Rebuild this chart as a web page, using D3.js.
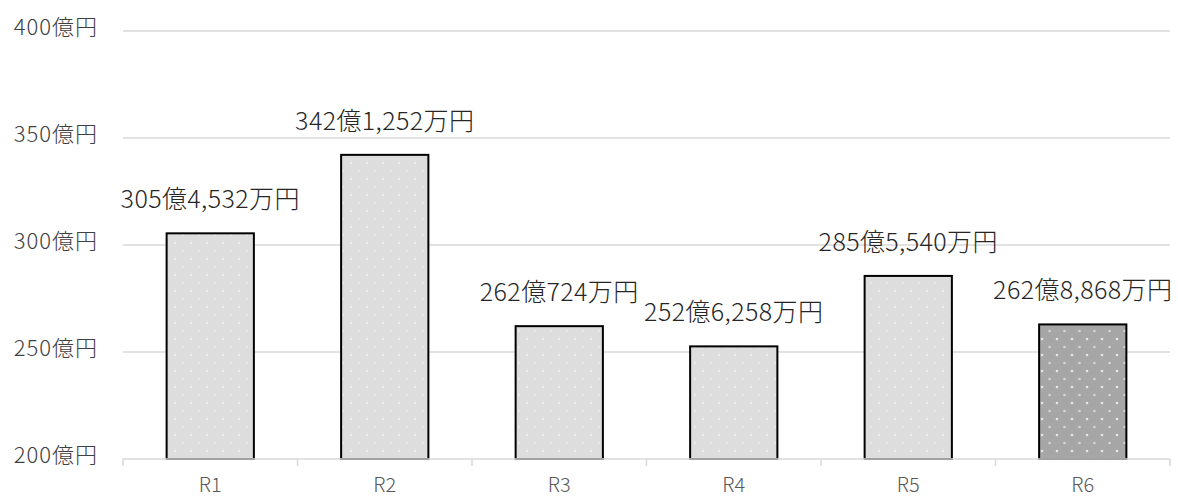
<!DOCTYPE html>
<html>
<head>
<meta charset="utf-8">
<script src="https://cdn.jsdelivr.net/npm/d3@7"></script>
<style>
  body { margin: 0; background: #fff; }
  svg text { font-family: "Noto Sans CJK JP", "Noto Sans", sans-serif; }
</style>
</head>
<body>
<div id="chart-area"></div>
<script>
// data (億円)
var categories = ["R1", "R2", "R3", "R4", "R5", "R6"];
var values = [305.4532, 342.1252, 262.0724, 252.6258, 285.5540, 262.8868];
var valueLabels = ["305億4,532万円", "342億1,252万円", "262億724万円", "252億6,258万円", "285億5,540万円", "262億8,868万円"];
var yTicks = [200, 250, 300, 350, 400];

var margin = {top: 31, right: 8, bottom: 38, left: 123};
var width = 1178 - margin.left - margin.right,
    height = 497 - margin.top - margin.bottom;

var svg = d3.select("#chart-area").append("svg")
    .attr("width", 1178)
    .attr("height", 497);

// patterns
var defs = svg.append("defs");
var light = defs.append("pattern")
    .attr("id", "lightDots")
    .attr("patternUnits", "userSpaceOnUse")
    .attr("width", 16).attr("height", 16);
light.append("rect").attr("width", 16).attr("height", 16).attr("fill", "#dddddd");
light.append("circle").attr("cx", 4).attr("cy", 4).attr("r", 1.2).attr("fill", "#eeeeee");
light.append("circle").attr("cx", 12).attr("cy", 12).attr("r", 1.2).attr("fill", "#e9e9e9");

var dark = defs.append("pattern")
    .attr("id", "darkDots")
    .attr("patternUnits", "userSpaceOnUse")
    .attr("width", 15).attr("height", 16);
dark.append("rect").attr("width", 15).attr("height", 16).attr("fill", "#a6a6a6");
dark.append("circle").attr("cx", 4).attr("cy", 4).attr("r", 1.3).attr("fill", "#e6e6e6");
dark.append("circle").attr("cx", 11.5).attr("cy", 12).attr("r", 1.3).attr("fill", "#d4d4d4");

var g = svg.append("g")
    .attr("transform", "translate(" + margin.left + "," + margin.top + ")");

var x = d3.scaleBand()
    .domain(categories)
    .range([0, width])
    .paddingInner(0.5)
    .paddingOuter(0.25);

var band = d3.scaleBand().domain(categories).range([0, width]);

var y = d3.scaleLinear()
    .domain([200, 400])
    .range([height, 0]);

// gridlines
g.selectAll(".grid")
    .data(yTicks.slice(1))
    .enter().append("line")
    .attr("class", "grid")
    .attr("x1", 0).attr("x2", width)
    .attr("y1", function (d) { return y(d); })
    .attr("y2", function (d) { return y(d); })
    .attr("stroke", "#d9d9d9")
    .attr("stroke-width", 1.5);

// y labels
g.selectAll(".ylab")
    .data(yTicks)
    .enter().append("text")
    .attr("class", "ylab")
    .attr("x", -25)
    .attr("y", function (d) { return y(d) - 4; })
    .attr("dy", "0.35em")
    .attr("text-anchor", "end")
    .attr("font-size", 22)
    .attr("font-weight", 300)
    .attr("letter-spacing", 1)
    .attr("fill", "#404040")
    .text(function (d) { return d + "億円"; });

// bars
g.selectAll(".bar")
    .data(values)
    .enter().append("rect")
    .attr("class", "bar")
    .attr("x", function (d, i) { return x(categories[i]); })
    .attr("width", x.bandwidth())
    .attr("y", function (d) { return y(d); })
    .attr("height", function (d) { return height - y(d); })
    .attr("fill", function (d, i) { return i === 5 ? "url(#darkDots)" : "url(#lightDots)"; })
    .attr("stroke", "#000")
    .attr("stroke-width", 2);

// value labels
g.selectAll(".vlab")
    .data(values)
    .enter().append("text")
    .attr("class", "vlab")
    .attr("x", function (d, i) { return x(categories[i]) + x.bandwidth() / 2; })
    .attr("y", function (d) { return y(d) - 34; })
    .attr("dy", "0.35em")
    .attr("text-anchor", "middle")
    .attr("font-size", 25)
    .attr("font-weight", 300)
    .attr("letter-spacing", 0.4)
    .attr("fill", "#262626")
    .text(function (d, i) { return valueLabels[i]; });

// x axis
var xAxis = g.append("g")
    .attr("transform", "translate(0," + height + ")");
xAxis.append("line")
    .attr("x1", 0).attr("x2", width)
    .attr("stroke", "#d9d9d9").attr("stroke-width", 1.5);
xAxis.selectAll(".tick")
    .data(categories.concat(["end"]))
    .enter().append("line")
    .attr("x1", function (d, i) { return i * band.bandwidth(); })
    .attr("x2", function (d, i) { return i * band.bandwidth(); })
    .attr("y1", 0).attr("y2", 7)
    .attr("stroke", "#d9d9d9").attr("stroke-width", 1.5);
xAxis.selectAll(".xlab")
    .data(categories)
    .enter().append("text")
    .attr("class", "xlab")
    .attr("x", function (d) { return band(d) + band.bandwidth() / 2; })
    .attr("y", 33)
    .attr("text-anchor", "middle")
    .attr("font-size", 20)
    .attr("font-weight", 300)
    .attr("fill", "#595959")
    .text(function (d) { return d; });
</script>
</body>
</html>
